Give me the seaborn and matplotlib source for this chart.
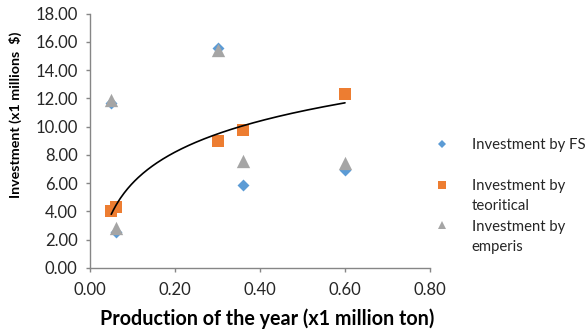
import numpy as np
import pandas as pd
import matplotlib
matplotlib.use("Agg")
import matplotlib.pyplot as plt
from matplotlib.lines import Line2D
import seaborn as sns

# ---- data ----
production = [0.05, 0.06, 0.30, 0.36, 0.60]
invest_fs = [11.70, 2.55, 15.55, 5.87, 6.95]
invest_teoritical = [4.03, 4.34, 9.00, 9.75, 12.28]
invest_emperis = [11.90, 2.85, 15.45, 7.57, 7.45]
series_names = ["Investment by FS", "Investment by teoritical", "Investment by emperis"]
legend_lines = [["Investment by FS", " "], ["Investment by", "teoritical"], ["Investment by", "emperis"]]
y_ticks = [0, 2, 4, 6, 8, 10, 12, 14, 16, 18]
x_ticks = [0.0, 0.2, 0.4, 0.6, 0.8]

sns.set_theme(style="white")
plt.rcParams["font.family"] = ["Lato", "DejaVu Sans"]

df = pd.DataFrame({
    "x": production * 3,
    "y": invest_fs + invest_teoritical + invest_emperis,
    "series": [series_names[0]] * 5 + [series_names[1]] * 5 + [series_names[2]] * 5,
})

colors = {series_names[0]: "#5B9BD5", series_names[1]: "#ED7D31", series_names[2]: "#A5A5A5"}
markers = {series_names[0]: "D", series_names[1]: "s", series_names[2]: "^"}
sizes = {series_names[0]: 37, series_names[1]: 63, series_names[2]: 92}
leg_ms = {series_names[0]: 4.2, series_names[1]: 5.6, series_names[2]: 6.0}

fig = plt.figure(figsize=(5.85, 3.35), dpi=100)
ax = fig.add_axes([90 / 585, 1 - 268 / 335, 340 / 585, (268 - 13.5) / 335])

for name in series_names:
    sub = df[df["series"] == name]
    sns.scatterplot(data=sub, x="x", y="y", ax=ax, color=colors[name], marker=markers[name],
                    s=sizes[name], linewidth=0, zorder=3, legend=False)

# logarithmic trendline fitted to the theoretical series
coef = np.polyfit(np.log(production), invest_teoritical, 1)
xs = np.linspace(min(production), max(production), 200)
ax.plot(xs, coef[0] * np.log(xs) + coef[1], color="black", lw=1.2, zorder=4)

ax.set_xlim(0, 0.8)
ax.set_ylim(0, 18)
ax.set_xticks(x_ticks)
ax.set_yticks(y_ticks)
ax.set_xticklabels([f"{v:.2f}" for v in x_ticks], fontsize=12, color="#262626")
ax.set_yticklabels([f"{v:.2f}" for v in y_ticks], fontsize=12, color="#262626")
for s in ["top", "right"]:
    ax.spines[s].set_visible(False)
for s in ["left", "bottom"]:
    ax.spines[s].set_color("#868686")
    ax.spines[s].set_linewidth(1.0)
ax.tick_params(axis="both", which="major", length=3, width=1, color="#868686", direction="out",
               bottom=True, left=True, pad=6)
ax.tick_params(axis="x", pad=7)

ax.set_xlabel("Production of the year (x1 million ton)", fontsize=14.2, fontweight="bold",
              color="black")
ax.xaxis.set_label_coords(0.52, -0.16)
ax.set_ylabel("Investment (x1 millions  $)", fontsize=10.3, fontweight="bold", color="black")
ax.yaxis.set_label_coords(-0.22, 0.60)
ax.yaxis.label.set_va("center")

# legend: one row per text line, marker on the first line of each entry
handles, labels = [], []
for name, lines in zip(series_names, legend_lines):
    handles.append(Line2D([], [], ls="none", marker=markers[name], ms=leg_ms[name],
                          color=colors[name], mew=0))
    labels.append(lines[0])
    handles.append(Line2D([], [], ls="none"))
    labels.append(lines[1])
leg = fig.legend(handles, labels, loc="upper left", bbox_to_anchor=(421 / 585, 1 - 132 / 335),
                 bbox_transform=fig.transFigure, frameon=False, fontsize=10.7,
                 labelspacing=0.43, handletextpad=1.0, handlelength=2.0, borderaxespad=0,
                 borderpad=0.4)
for t in leg.get_texts():
    t.set_color("#262626")

fig.savefig("out.png", dpi=100)
